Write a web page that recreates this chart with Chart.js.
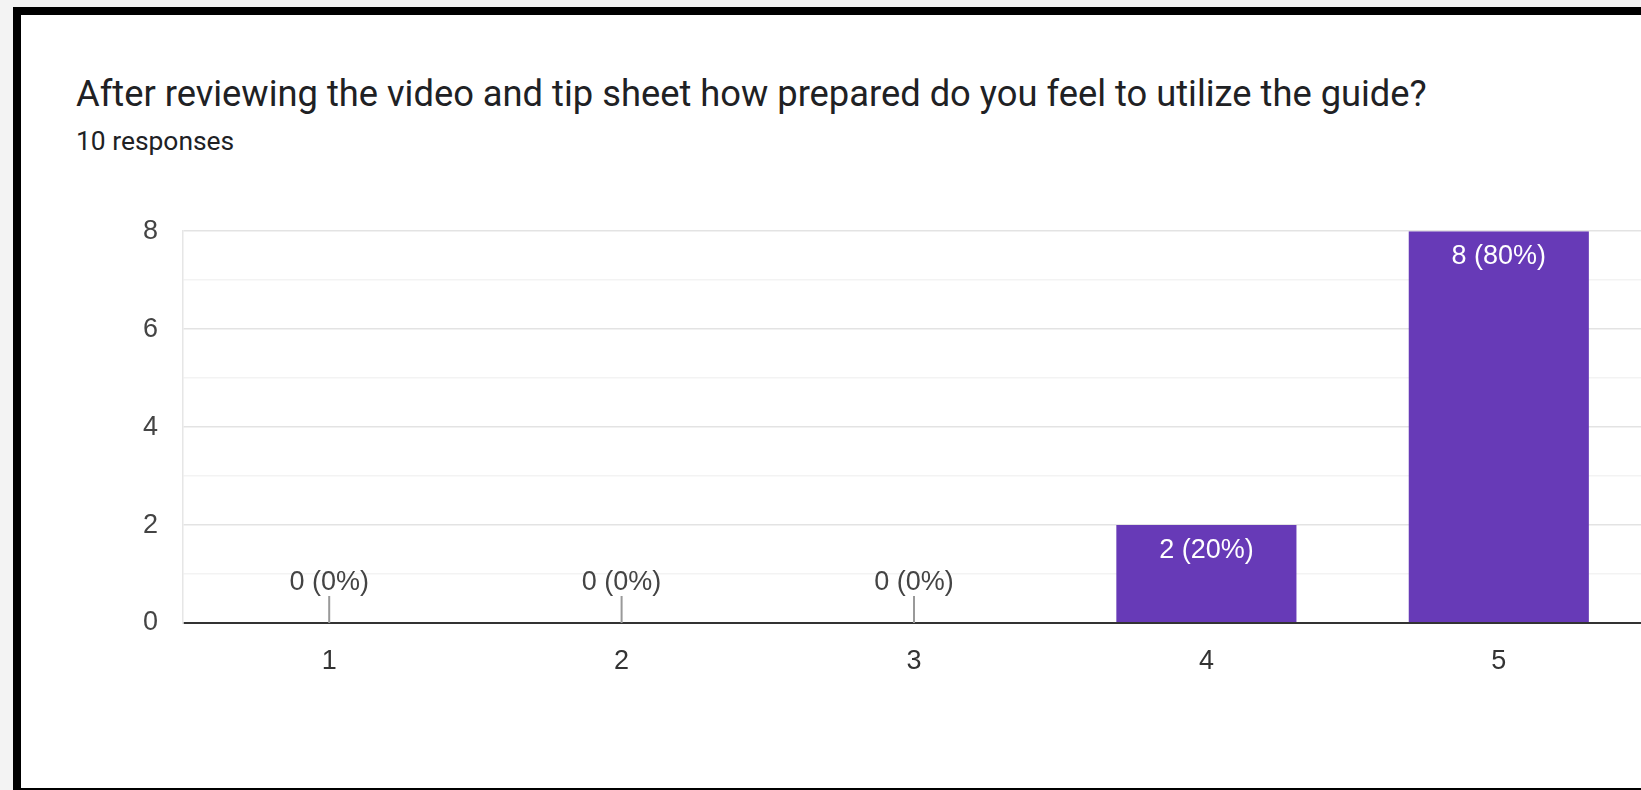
<!DOCTYPE html>
<html>
<head>
<meta charset="utf-8">
<script src="https://cdn.jsdelivr.net/npm/chart.js@4"></script>
<style>
    html, body {
        margin: 0;
        padding: 0;
        width: 1641px;
        height: 790px;
        overflow: hidden;
        background: #f3f3f3;
    }
    .card {
        position: absolute;
        left: 13px;
        top: 7px;
        width: 1700px;
        height: 789px;
        background: #fff;
        border: 8px solid #000;
        border-right: none;
        box-sizing: border-box;
    }
    .title {
        position: absolute;
        left: 76px;
        top: 73px;
        margin: 0;
        font-family: Roboto, sans-serif;
        font-weight: 400;
        font-size: 36.3px;
        line-height: 42px;
        color: #202124;
        white-space: nowrap;
    }
    .sub {
        position: absolute;
        left: 76px;
        top: 125px;
        font-family: Roboto, sans-serif;
        font-size: 26.4px;
        line-height: 32px;
        color: #202124;
    }
    .chartBox {
        position: absolute;
        left: 22px;
        top: 190px;
        width: 1640px;
        height: 560px;
    }
</style>
</head>
<body>
<div class="card"></div>
<h1 class="title">After reviewing the video and tip sheet how prepared do you feel to utilize the guide?</h1>
<div class="sub">10 responses</div>
<div class="chartBox"><canvas id="barChart"></canvas></div>
<script>
const categories = ['1', '2', '3', '4', '5'];
const counts = [0, 0, 0, 2, 8];
const yTicks = [0, 2, 4, 6, 8];
const total = counts.reduce((a, b) => a + b, 0);

const labelFont = '"Liberation Sans", Arial, sans-serif';

// labels on top of / inside the bars
const barLabels = {
    id: 'barLabels',
    afterDatasetsDraw(chart) {
        const ctx = chart.ctx;
        const meta = chart.getDatasetMeta(0);
        ctx.save();
        ctx.font = '27px ' + labelFont;
        ctx.textAlign = 'center';
        ctx.textBaseline = 'alphabetic';
        meta.data.forEach((bar, i) => {
            let value = counts[i];
            let text = value + ' (' + Math.round(value * 100 / total) + '%)';
            if (value > 0) {
                ctx.fillStyle = '#ffffff';
                ctx.fillText(text, bar.x, bar.y + 33);
            } else {
                ctx.strokeStyle = '#999999';
                ctx.lineWidth = 2;
                ctx.beginPath();
                ctx.moveTo(bar.x, bar.base - 27);
                ctx.lineTo(bar.x, bar.base);
                ctx.stroke();
                ctx.fillStyle = '#444444';
                ctx.fillText(text, bar.x, bar.base - 33);
            }
        });
        ctx.restore();
    }
};

const ctx = document.getElementById('barChart').getContext('2d');
const barChart = new Chart(ctx, {
    type: 'bar',
    data: {
        labels: categories,
        datasets: [{
            data: counts,
            backgroundColor: '#673ab7',
            borderWidth: 0,
            barPercentage: 0.616,
            categoryPercentage: 1
        }]
    },
    options: {
        responsive: true,
        maintainAspectRatio: false,
        animation: false,
        layout: {
            padding: { top: 30, right: 17, left: 0, bottom: 0 }
        },
        scales: {
            x: {
                grid: { display: false, drawTicks: false },
                border: { display: false },
                ticks: {
                    padding: 22,
                    color: '#333333',
                    font: { family: labelFont, size: 27 }
                },
                afterFit(scale) {
                    scale.height = 127;
                }
            },
            y: {
                min: 0,
                max: yTicks[yTicks.length - 1],
                ticks: {
                    stepSize: 1,
                    padding: 25,
                    color: '#444444',
                    font: { family: labelFont, size: 27 },
                    callback: (value) => yTicks.includes(value) ? value : ''
                },
                grid: {
                    drawTicks: false,
                    color: (c) => c.tick.value == 0 ? '#333333' : (yTicks.includes(c.tick.value) ? '#e3e3e3' : '#f3f3f3'),
                    lineWidth: (c) => c.tick.value == 0 ? 2 : 1.5
                },
                border: { display: true, color: '#e6e6e6', width: 1.5 },
                afterFit(scale) {
                    scale.width = 161;
                }
            }
        },
        plugins: {
            legend: { display: false },
            tooltip: { enabled: false }
        }
    },
    plugins: [barLabels]
});
</script>
</body>
</html>
